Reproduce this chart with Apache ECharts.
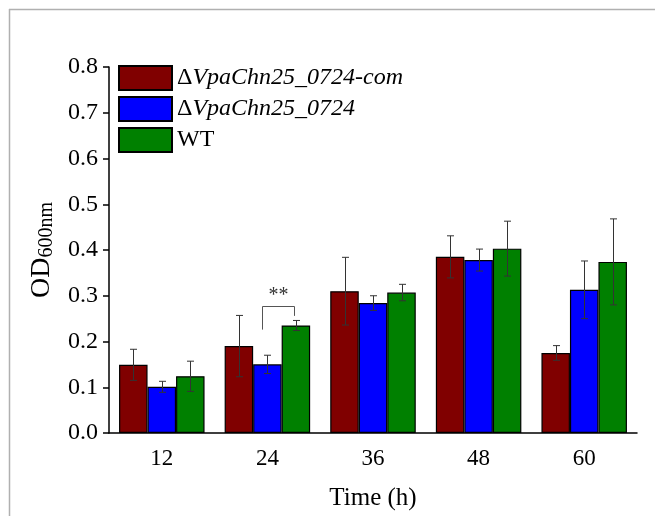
<!DOCTYPE html>
<html>
<head>
<meta charset="utf-8">
<script src="https://cdn.jsdelivr.net/npm/echarts@6/dist/echarts.min.js"></script>
<style>
html,body{margin:0;padding:0;background:#fff;}
#chart{width:655px;height:516px;}
</style>
</head>
<body>
<div id="chart"></div>
<script>
// ---- data ----
const categories = ['12', '24', '36', '48', '60'];
const seriesNames = ['ΔVpaChn25_0724-com', 'ΔVpaChn25_0724', 'WT'];
const comValues = [0.149, 0.190, 0.310, 0.385, 0.175];
const comErrors = [0.034, 0.067, 0.074, 0.046, 0.016];
const mutValues = [0.101, 0.150, 0.284, 0.378, 0.313];
const mutErrors = [0.012, 0.020, 0.016, 0.024, 0.063];
const wtValues  = [0.124, 0.235, 0.307, 0.403, 0.374];
const wtErrors  = [0.033, 0.011, 0.018, 0.060, 0.094];
const yTicks = [0.0, 0.1, 0.2, 0.3, 0.4, 0.5, 0.6, 0.7, 0.8];
// significance bracket: [categoryIndex, bracketTop, leftLegEnd, rightLegEnd]
const sigBracket = [[1, 0.277, 0.226, 0.256]];
const sigLabel = '**';

const colors = ['#800000', '#0000ff', '#008000'];
const FONT = '"Liberation Serif", "Times New Roman", serif';
const BAR_W = 28.5;
const offsets = [-BAR_W, 0, BAR_W];

const chart = echarts.init(document.getElementById('chart'), null, {renderer: 'canvas'});

function errData(vals, errs) {
  return vals.map((v, i) => [i, v - errs[i], v + errs[i]]);
}

function errSeries(idx, vals, errs) {
  return {
    type: 'custom',
    name: seriesNames[idx] + '_err',
    z: 5,
    silent: true,
    data: errData(vals, errs),
    encode: {x: 0, y: [1, 2]},
    renderItem: function (params, api) {
      const lo = api.coord([api.value(0), api.value(1)]);
      const hi = api.coord([api.value(0), api.value(2)]);
      const x = Math.round(lo[0] + offsets[idx]) + 0.5;
      const cap = 3.5;
      const style = {stroke: '#333', lineWidth: 1};
      return {
        type: 'group',
        children: [
          {type: 'line', shape: {x1: x, y1: lo[1], x2: x, y2: hi[1]}, style: style},
          {type: 'line', shape: {x1: x - cap, y1: hi[1], x2: x + cap, y2: hi[1]}, style: style},
          {type: 'line', shape: {x1: x - cap, y1: lo[1], x2: x + cap, y2: lo[1]}, style: style}
        ]
      };
    }
  };
}

function barSeries(idx, vals) {
  return {
    type: 'bar',
    name: seriesNames[idx],
    data: vals,
    barWidth: BAR_W,
    barGap: '0%',
    itemStyle: {color: colors[idx], borderColor: '#000', borderWidth: 1.2},
    z: 2
  };
}

const richLegend = {
  d: {fontFamily: FONT, fontSize: 24, fontStyle: 'normal', color: '#000', lineHeight: 24},
  i: {fontFamily: FONT, fontSize: 24, fontStyle: 'italic', color: '#000', lineHeight: 24},
  n: {fontFamily: FONT, fontSize: 24, fontStyle: 'normal', color: '#000', lineHeight: 24}
};

const option = {
  backgroundColor: '#fff',
  animation: false,
  grid: {left: 109, right: 18, top: 67, bottom: 78, containLabel: false},
  legend: {
    data: seriesNames.map(n => ({name: n, icon: 'rect'})),
    orient: 'vertical',
    left: 118,
    top: 65,
    itemWidth: 53,
    itemHeight: 24,
    itemGap: 5,
    padding: 0,
    selectedMode: false,
    textStyle: {fontFamily: FONT, fontSize: 24, lineHeight: 24, color: '#000', rich: richLegend},
    formatter: function (name) {
      if (name.charAt(0) === 'Δ') return '{d|Δ}{i|' + name.slice(1) + '}';
      return '{n|' + name + '}';
    }
  },
  xAxis: {
    type: 'category',
    data: categories,
    name: 'Time (h)',
    nameLocation: 'middle',
    nameGap: 53,
    nameTextStyle: {fontFamily: FONT, fontSize: 25, color: '#000'},
    axisLine: {lineStyle: {color: '#000', width: 1.5}},
    axisTick: {alignWithLabel: true, length: 6, lineStyle: {color: '#000', width: 1.5}},
    axisLabel: {fontFamily: FONT, fontSize: 23, color: '#000', margin: 14},
    splitLine: {show: false}
  },
  yAxis: {
    type: 'value',
    min: 0,
    max: 0.8,
    interval: 0.1,
    name: 'OD{s|600nm}',
    nameLocation: 'middle',
    nameGap: 52,
    nameRotate: 90,
    nameTextStyle: {
      fontFamily: FONT, fontSize: 28, color: '#000',
      rich: {s: {fontFamily: FONT, fontSize: 20, color: '#000', padding: [10, 0, 0, 0]}}
    },
    axisLine: {show: true, lineStyle: {color: '#000', width: 1.5}},
    axisTick: {show: true, length: 6, lineStyle: {color: '#000', width: 1.5}},
    axisLabel: {
      fontFamily: FONT, fontSize: 24, color: '#000', margin: 11,
      formatter: function (v) {
        const t = yTicks.find(x => Math.abs(x - v) < 1e-9);
        return (t !== undefined ? t : v).toFixed(1);
      }
    },
    splitLine: {show: false}
  },
  graphic: [
    {type: 'line', shape: {x1: 9, y1: 9.5, x2: 655, y2: 9.5}, style: {stroke: '#b0b0b0', lineWidth: 1.5}, silent: true},
    {type: 'line', shape: {x1: 9.5, y1: 9, x2: 9.5, y2: 516}, style: {stroke: '#b0b0b0', lineWidth: 1.5}, silent: true}
  ],
  series: [
    barSeries(0, comValues),
    barSeries(1, mutValues),
    barSeries(2, wtValues),
    errSeries(0, comValues, comErrors),
    errSeries(1, mutValues, mutErrors),
    errSeries(2, wtValues, wtErrors),
    {
      type: 'custom',
      name: 'sig',
      silent: true,
      z: 6,
      data: sigBracket,
      encode: {x: 0, y: [1, 2, 3]},
      renderItem: function (params, api) {
        const top = api.coord([api.value(0), api.value(1)]);
        const l = api.coord([api.value(0), api.value(2)]);
        const r = api.coord([api.value(0), api.value(3)]);
        const xl = Math.round(top[0] - 5) + 0.5;
        const xr = Math.round(top[0] + 27) + 0.5;
        const y = Math.round(top[1]) + 0.5;
        const style = {stroke: '#555', lineWidth: 1, fill: null};
        return {
          type: 'group',
          children: [
            {type: 'polyline', shape: {points: [[xl, l[1]], [xl, y], [xr, y], [xr, r[1]]]}, style: style},
            {type: 'text', style: {text: sigLabel, x: (xl + xr) / 2, y: y - 1, align: 'center', verticalAlign: 'bottom',
              font: '20px ' + FONT, fill: '#333'}}
          ]
        };
      }
    }
  ]
};

chart.setOption(option);
</script>
</body>
</html>
